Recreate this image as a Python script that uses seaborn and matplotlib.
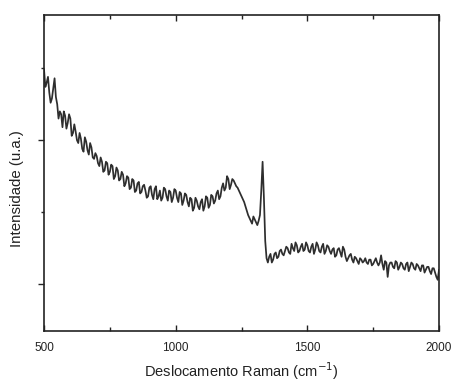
import matplotlib
matplotlib.use("Agg")
import matplotlib.pyplot as plt
import matplotlib.ticker as mticker
import numpy as np
import pandas as pd
import seaborn as sns

# Raman shift (cm^-1), main readings
raman_shift = [
    500, 510, 520, 530, 540, 550, 560, 570, 580, 590,
    600, 610, 620, 630, 640, 650, 660, 670, 680, 690,
    700, 710, 720, 730, 740, 750, 760, 770, 780, 790,
    800, 810, 820, 830, 840, 850, 860, 870, 880, 890,
    900, 910, 920, 930, 940, 950, 960, 970, 980, 990,
    1000, 1010, 1020, 1030, 1040, 1050, 1060, 1070, 1080, 1090,
    1100, 1110, 1120, 1130, 1140, 1150, 1160, 1170, 1180, 1190,
    1200, 1210, 1220, 1230, 1240, 1250, 1260, 1270, 1280, 1290,
    1300, 1310, 1320, 1330, 1340, 1350, 1360, 1370, 1380, 1390,
    1400, 1410, 1420, 1430, 1440, 1450, 1460, 1470, 1480, 1490,
    1500, 1510, 1520, 1530, 1540, 1550, 1560, 1570, 1580, 1590,
    1600, 1610, 1620, 1630, 1640, 1650, 1660, 1670, 1680, 1690,
    1700, 1710, 1720, 1730, 1740, 1750, 1760, 1770, 1780, 1790,
    1800, 1810, 1820, 1830, 1840, 1850, 1860, 1870, 1880, 1890,
    1900, 1910, 1920, 1930, 1940, 1950, 1960, 1970, 1980, 1990,
    2000,
]

# Intensity (arbitrary units)
intensity = [
    3.98, 3.80, 3.66, 3.58, 3.86, 3.50, 3.40, 3.18, 3.34, 3.24,
    3.30, 3.10, 3.12, 2.96, 3.02, 2.84, 2.98, 2.80, 2.90, 2.74,
    2.78, 2.64, 2.70, 2.58, 2.68, 2.56, 2.64, 2.50, 2.58, 2.46,
    2.52, 2.40, 2.48, 2.34, 2.44, 2.30, 2.42, 2.28, 2.38, 2.20,
    2.34, 2.24, 2.32, 2.18, 2.30, 2.20, 2.32, 2.16, 2.28, 2.20,
    2.30, 2.14, 2.26, 2.16, 2.24, 2.08, 2.18, 2.06, 2.16, 2.04,
    2.18, 2.08, 2.20, 2.10, 2.22, 2.16, 2.30, 2.22, 2.40, 2.34,
    2.46, 2.38, 2.44, 2.36, 2.30, 2.22, 2.14, 2.02, 1.92, 1.84,
    1.90, 1.82, 1.96, 2.70, 1.60, 1.30, 1.42, 1.34, 1.44, 1.38,
    1.48, 1.40, 1.52, 1.44, 1.56, 1.46, 1.54, 1.46, 1.56, 1.48,
    1.54, 1.44, 1.56, 1.48, 1.54, 1.44, 1.56, 1.46, 1.52, 1.42,
    1.50, 1.40, 1.50, 1.38, 1.48, 1.32, 1.40, 1.34, 1.38, 1.32,
    1.36, 1.30, 1.36, 1.28, 1.34, 1.28, 1.36, 1.26, 1.40, 1.20,
    1.30, 1.26, 1.30, 1.22, 1.30, 1.24, 1.28, 1.20, 1.30, 1.24,
    1.28, 1.20, 1.26, 1.18, 1.26, 1.20, 1.24, 1.14, 1.22, 1.10,
    1.20,
]

# Intermediate readings (noise between the main readings)
raman_shift_mid = [
    505, 515, 525, 535, 545, 555, 565, 575, 585, 595,
    605, 615, 625, 635, 645, 655, 665, 675, 685, 695,
    705, 715, 725, 735, 745, 755, 765, 775, 785, 795,
    805, 815, 825, 835, 845, 855, 865, 875, 885, 895,
    905, 915, 925, 935, 945, 955, 965, 975, 985, 995,
    1005, 1015, 1025, 1035, 1045, 1055, 1065, 1075, 1085, 1095,
    1105, 1115, 1125, 1135, 1145, 1155, 1165, 1175, 1185, 1195,
    1205, 1215, 1225, 1235, 1245, 1255, 1265, 1275, 1285, 1295,
    1305, 1315, 1325, 1335, 1345, 1355, 1365, 1375, 1385, 1395,
    1405, 1415, 1425, 1435, 1445, 1455, 1465, 1475, 1485, 1495,
    1505, 1515, 1525, 1535, 1545, 1555, 1565, 1575, 1585, 1595,
    1605, 1615, 1625, 1635, 1645, 1655, 1665, 1675, 1685, 1695,
    1705, 1715, 1725, 1735, 1745, 1755, 1765, 1775, 1785, 1795,
    1805, 1815, 1825, 1835, 1845, 1855, 1865, 1875, 1885, 1895,
    1905, 1915, 1925, 1935, 1945, 1955, 1965, 1975, 1985, 1995,
]

intensity_mid = [
    3.74, 3.88, 3.52, 3.72, 3.60, 3.30, 3.36, 3.40, 3.16, 3.36,
    3.06, 3.22, 3.00, 3.10, 2.88, 3.04, 2.86, 2.96, 2.76, 2.82,
    2.68, 2.76, 2.56, 2.70, 2.52, 2.66, 2.46, 2.62, 2.44, 2.56,
    2.36, 2.50, 2.32, 2.46, 2.28, 2.40, 2.26, 2.36, 2.30, 2.22,
    2.36, 2.18, 2.36, 2.22, 2.16, 2.34, 2.22, 2.30, 2.14, 2.32,
    2.20, 2.28, 2.10, 2.26, 2.14, 2.20, 2.02, 2.20, 2.08, 2.14,
    2.02, 2.22, 2.06, 2.24, 2.12, 2.26, 2.18, 2.34, 2.30, 2.50,
    2.32, 2.46, 2.40, 2.34, 2.26, 2.18, 2.08, 1.96, 1.88, 1.94,
    1.86, 1.88, 2.30, 2.20, 1.36, 1.38, 1.30, 1.42, 1.36, 1.46,
    1.42, 1.46, 1.50, 1.42, 1.50, 1.58, 1.44, 1.52, 1.46, 1.58,
    1.46, 1.52, 1.42, 1.58, 1.46, 1.52, 1.42, 1.54, 1.46, 1.48,
    1.38, 1.48, 1.44, 1.52, 1.38, 1.36, 1.42, 1.30, 1.36, 1.28,
    1.34, 1.32, 1.30, 1.34, 1.26, 1.32, 1.30, 1.30, 1.28, 1.32,
    1.10, 1.30, 1.24, 1.32, 1.20, 1.30, 1.22, 1.28, 1.18, 1.30,
    1.22, 1.28, 1.22, 1.26, 1.16, 1.24, 1.18, 1.22, 1.16, 1.06,
]

x_ticks = [500, 1000, 1500, 2000]
x_tick_labels = ["500", "1000", "1500", "2000"]

df = pd.DataFrame({
    "shift": raman_shift + raman_shift_mid,
    "intensity": intensity + intensity_mid,
}).sort_values("shift")

sns.set_style("ticks")
plt.rcParams["font.family"] = ["Liberation Sans", "DejaVu Sans"]

fig = plt.figure(figsize=(4.54, 3.83), dpi=100)
ax = fig.add_axes([0.097, 0.136, 0.870, 0.825])

sns.lineplot(data=df, x="shift", y="intensity", ax=ax, color="#2e2e2e",
             linewidth=1.25, estimator=None, sort=True)

ax.set_xlim(500, 2000)
ax.set_ylim(0.35, 4.74)
ax.set_xticks(x_ticks)
ax.set_xticklabels(x_tick_labels)
ax.xaxis.set_minor_locator(mticker.FixedLocator([750, 1250, 1750]))
ax.set_yticks([1, 3])
ax.set_yticklabels([])
ax.yaxis.set_minor_locator(mticker.FixedLocator([2, 4]))

ax.tick_params(axis="x", which="both", top=True, bottom=True, direction="in",
               labelsize=8.5, pad=8, colors="#222222")
ax.tick_params(axis="x", which="major", length=4, width=1)
ax.tick_params(axis="x", which="minor", length=3, width=1)
ax.tick_params(axis="y", which="major", left=True, right=False,
               direction="out", length=4, width=1)
ax.tick_params(axis="y", which="minor", left=True, right=False,
               direction="out", length=2, width=1)

for s in ax.spines.values():
    s.set_visible(True)
    s.set_linewidth(1.2)
    s.set_color("#222222")

ax.set_xlabel(r"Deslocamento Raman (cm$^{-1}$)", fontsize=10.5, color="#222222")
ax.xaxis.set_label_coords(0.5, -0.092)
ax.set_ylabel("Intensidade (u.a.)", fontsize=10.8, color="#222222")
ax.yaxis.set_label_coords(-0.05, 0.45)

fig.savefig("out.png", dpi=100)
